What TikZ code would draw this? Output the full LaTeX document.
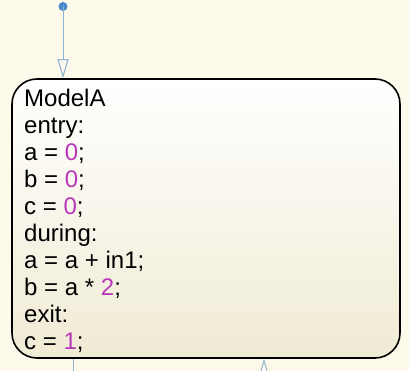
\documentclass[tikz,border=0pt]{standalone}
\usepackage{fontspec}
\setmainfont{Liberation Sans}
\usetikzlibrary{arrows.meta}
\definecolor{bgc}{RGB}{253,249,235}
\definecolor{boxbot}{RGB}{240,235,212}
\definecolor{trans}{RGB}{140,176,216}
\definecolor{dotc}{RGB}{74,136,200}
\definecolor{num}{RGB}{185,55,185}
\newcommand{\nm}[1]{\textcolor{num}{#1}}
\tikzset{
  statebox/.style={draw=black, line width=1.6pt, rounded corners=25pt, top color=white, bottom color=boxbot, minimum width=388pt, minimum height=279pt, inner sep=0pt},
  transline/.style={draw=trans, line width=1pt},
  opentip/.style={-{Triangle[open, length=19pt, width=11pt, line width=1pt]}},
  codetext/.style={align=left, inner sep=0pt, font=\fontsize{24}{27}\selectfont}
}
\begin{document}
\begin{tikzpicture}[x=1pt,y=-1pt]
\useasboundingbox (0,0) rectangle (409,371);
\clip (0,0) rectangle (409,371);
\fill[bgc] (0,0) rectangle (409,371);
\node[statebox] (modelA) at (206,218.5) {};
\node[codetext, anchor=north west] (code) at (24,89) {ModelA\\entry:\\a = \nm{0};\\b = \nm{0};\\c = \nm{0};\\during:\\a = a + in1;\\b = a * \nm{2};\\exit:\\c = \nm{1};};
\coordinate (init) at (63,6.5);
\fill[dotc] (init) circle (4.5pt);
\draw[transline, opentip] (init) -- (modelA.north -| init);
\coordinate (outend) at (73,380);
\draw[transline] (modelA.south -| outend) -- (outend);
\coordinate (instart) at (264,380);
\draw[transline, opentip] (instart) -- (modelA.south -| instart);
\end{tikzpicture}
\end{document}
